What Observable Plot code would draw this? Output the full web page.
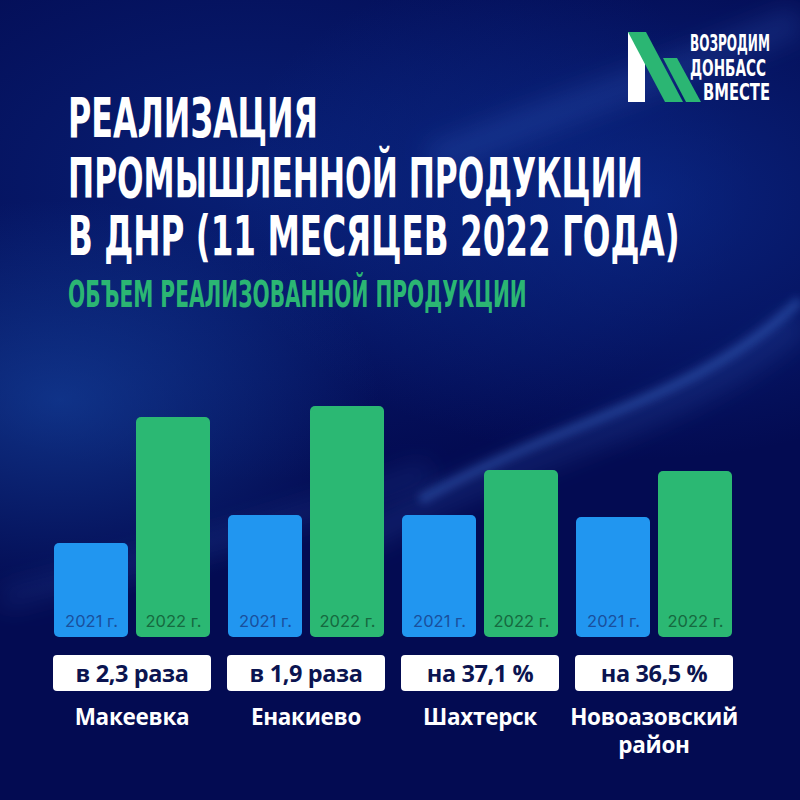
<!DOCTYPE html>
<html>
<head>
<meta charset="utf-8">
<script src="https://cdn.jsdelivr.net/npm/d3@7"></script>
<script src="https://cdn.jsdelivr.net/npm/@observablehq/plot@0.6"></script>
<style>
  html, body { margin: 0; padding: 0; }
  body {
    width: 800px; height: 800px; overflow: hidden; position: relative;
    background:
      radial-gradient(ellipse 320px 200px at 60px 400px, rgba(25,80,175,0.55), rgba(25,80,175,0) 100%),
      radial-gradient(ellipse 420px 260px at 640px 200px, rgba(15,55,160,0.55), rgba(15,55,160,0) 100%),
      radial-gradient(ellipse 500px 300px at 250px 180px, rgba(12,45,140,0.6), rgba(12,45,140,0) 100%),
      #030b52;
    font-family: "Open Sans", Inter, sans-serif;
  }
  .abs { position: absolute; left: 0; top: 0; }
  .box {
    position: absolute; background: #ffffff; border-radius: 4px;
    height: 36px; top: 655px; display: flex; align-items: center; justify-content: center;
    color: #0b1450; font-weight: 700; font-size: 23.5px; font-family: "Open Sans", sans-serif;
    letter-spacing: -0.4px;
  }
  .city {
    position: absolute; top: 703px; text-align: center; color: #ffffff;
    font-weight: 700; font-size: 22.5px; line-height: 28px; font-family: "Open Sans", sans-serif;
    letter-spacing: -0.3px;
  }
</style>
</head>
<body>
<svg class="abs" width="800" height="800" viewBox="0 0 800 800">
  <defs>
    <filter id="blur" x="-20%" y="-20%" width="140%" height="140%"><feGaussianBlur stdDeviation="4"/></filter>
    <filter id="blur2" x="-20%" y="-20%" width="140%" height="140%"><feGaussianBlur stdDeviation="12"/></filter>
  </defs>
  <path d="M 420 500 C 560 420, 700 400, 800 300" stroke="rgba(90,150,255,0.28)" stroke-width="10" fill="none" filter="url(#blur)"/>
  <path d="M 360 540 C 520 450, 690 420, 800 320" stroke="rgba(90,150,255,0.14)" stroke-width="26" fill="none" filter="url(#blur2)"/>
  <path d="M 0 600 C 150 560, 300 520, 430 470" stroke="rgba(90,150,255,0.12)" stroke-width="22" fill="none" filter="url(#blur2)"/>
  <path d="M 430 160 C 560 110, 680 70, 800 20" stroke="rgba(90,150,255,0.15)" stroke-width="30" fill="none" filter="url(#blur2)"/>
  <!-- logo -->
  <polygon points="628,32 645,32 645,102 628,102" fill="#ffffff"/>
  <polygon points="628,32 646,32 683,102 665,102" fill="#2bb673"/>
  <polygon points="663,58 677,58 701,102 686,102" fill="#2bb673"/>
  <g fill="#ffffff" font-family="'Liberation Sans Narrow', 'DejaVu Sans Condensed', sans-serif" font-weight="700" font-size="23">
    <text class="fit" data-x="690" data-y="51" data-w="80">ВОЗРОДИМ</text>
    <text class="fit" data-x="690" data-y="76" data-w="76">ДОНБАСС</text>
    <text class="fit" data-x="703" data-y="100" data-w="67">ВМЕСТЕ</text>
  </g>
  <!-- title -->
  <g fill="#ffffff" font-family="'Liberation Sans Narrow', 'DejaVu Sans Condensed', sans-serif" font-weight="700" font-size="56">
    <text class="fit" data-x="68" data-y="137" data-w="250">РЕАЛИЗАЦИЯ</text>
    <text class="fit" data-x="68" data-y="197" data-w="575">ПРОМЫШЛЕННОЙ ПРОДУКЦИИ</text>
    <text class="fit" data-x="68" data-y="255" data-w="612">В ДНР (11 МЕСЯЦЕВ 2022 ГОДА)</text>
  </g>
  <text class="fit" data-x="68" data-y="307" data-w="459" fill="#2bb673" font-family="'Liberation Sans Narrow', 'DejaVu Sans Condensed', sans-serif" font-weight="700" font-size="37">ОБЪЕМ РЕАЛИЗОВАННОЙ ПРОДУКЦИИ</text>
</svg>
<div id="chart" class="abs" style="top:380px"></div>
<div id="labels"></div>
<script>
// fit header texts to their widths with a horizontal scale
document.querySelectorAll("text.fit").forEach(t => {
  const L = t.getComputedTextLength();
  const w = +t.dataset.w;
  const sx = L > 0 ? w / L : 1;
  t.setAttribute("transform", `translate(${t.dataset.x},${t.dataset.y}) scale(${sx},1)`);
});

const cities = ["Макеевка", "Енакиево", "Шахтерск", "Новоазовский район"];
const cityLines = [["Макеевка"], ["Енакиево"], ["Шахтерск"], ["Новоазовский", "район"]];
const years = ["2021", "2022"];
const values2021 = [94, 122, 122, 120];
const values2022 = [220, 231, 167, 166];
const growth = ["в 2,3 раза", "в 1,9 раза", "на 37,1 %", "на 36,5 %"];
const yearLabels = ["2021 г.", "2022 г."];

const data = [];
cities.forEach((c, i) => {
  data.push({city: c, year: years[0], value: values2021[i], label: yearLabels[0]});
  data.push({city: c, year: years[1], value: values2022[i], label: yearLabels[1]});
});

const chart = Plot.plot({
  width: 800,
  height: 260,
  marginLeft: 53,
  marginRight: 67,
  marginTop: 0,
  marginBottom: 3,
  style: {background: "transparent", overflow: "visible"},
  fx: {domain: cities, paddingInner: 0.092, paddingOuter: 0, axis: null, label: null},
  x: {domain: years, paddingInner: 0.096, paddingOuter: 0, axis: null, label: null},
  y: {domain: [0, 257], axis: null},
  color: {domain: years, range: ["#2196f0", "#2bb873"]},
  marks: [
    Plot.barY(data, {fx: "city", x: "year", y: "value", fill: "year", rx: 5, ry: 5}),
    Plot.text(data, {
      fx: "city", x: "year", y: 0, dy: -16, text: "label",
      fill: d => d.year === years[0] ? "#1a4f9c" : "#16693f",
      fontSize: 16.5, fontFamily: "Inter, 'Open Sans', sans-serif", fontWeight: 400
    })
  ]
});
document.getElementById("chart").appendChild(chart);

const fx = chart.scale("fx");
const labels = document.getElementById("labels");
cities.forEach((c, i) => {
  const left = fx.apply(c);
  const w = fx.bandwidth;
  const box = document.createElement("div");
  box.className = "box";
  box.style.left = left + "px";
  box.style.width = w + "px";
  box.textContent = growth[i];
  labels.appendChild(box);
  const name = document.createElement("div");
  name.className = "city";
  name.style.left = (left - 12) + "px";
  name.style.width = (w + 24) + "px";
  name.innerHTML = cityLines[i].join("<br>");
  labels.appendChild(name);
});
</script>
</body>
</html>
